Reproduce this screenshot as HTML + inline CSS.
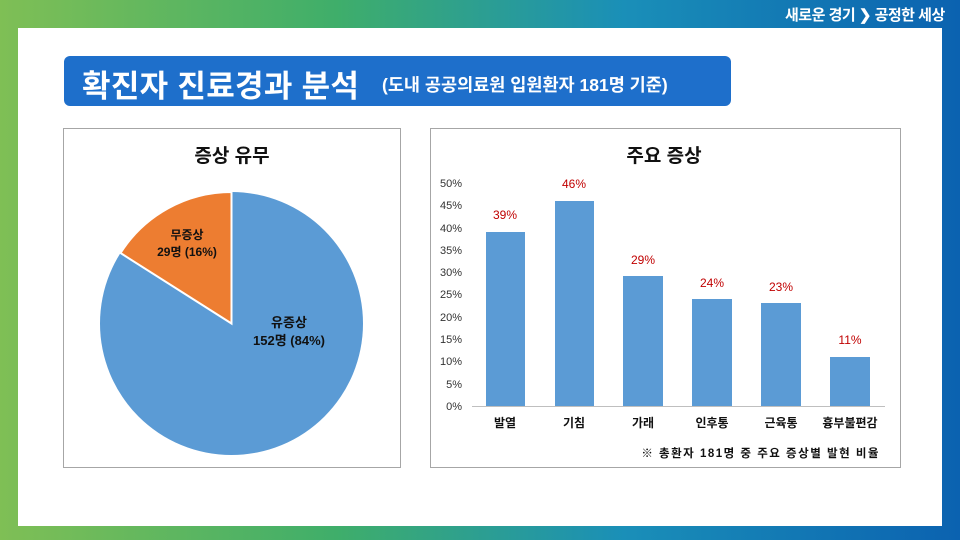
<!DOCTYPE html>
<html><head><meta charset="utf-8"><style>
body{margin:0;width:960px;height:540px;overflow:hidden;font-family:"Liberation Sans","Noto Sans CJK KR",sans-serif;}
.bg{position:absolute;left:0;top:0;width:960px;height:540px;background:linear-gradient(90deg,#7fbf55 0%,#3fae6a 35%,#1a8fb8 65%,#0b62b0 100%);}
.white{position:absolute;left:18px;top:28px;width:924px;height:498px;background:#fff;}
.title{position:absolute;left:64px;top:56px;width:667px;height:50px;background:#1e6fcb;border-radius:6px;color:#fff;}
.panel{position:absolute;border:1px solid #a6a6a6;background:#fff;}
</style></head><body>
<div class="bg"></div>
<div style="position:absolute;left:785px;top:4px;color:#fff;font-weight:bold;font-size:15px;letter-spacing:-0.5px;">새로운 경기 ❯ 공정한 세상</div>
<div class="white"></div>
<div class="title"><span style="position:absolute;left:18px;top:5px;font-size:31px;font-weight:bold;letter-spacing:0.3px;">확진자 진료경과 분석</span><span style="position:absolute;left:318px;top:16px;font-size:17.5px;font-weight:bold;">(도내 공공의료원 입원환자 181명 기준)</span></div>
<div class="panel" style="left:63px;top:128px;width:336px;height:338px;"></div>
<div class="panel" style="left:430px;top:128px;width:469px;height:338px;"></div>
<svg style="position:absolute;left:0;top:0" width="960" height="540" font-family="Liberation Sans, Noto Sans CJK KR, sans-serif">
<text x="232" y="162" font-size="19" font-weight="bold" text-anchor="middle" fill="#111">증상 유무</text>
<circle cx="231.5" cy="323.5" r="131.5" fill="#5b9bd5"/>
<path d="M231.5 323.5 L231.5 192 A131.5 131.5 0 0 0 120.5 253 Z" fill="#ed7d31" stroke="#fff" stroke-width="2"/>
<line x1="231.5" y1="323.5" x2="231.5" y2="192" stroke="#fff" stroke-width="2"/>
<text x="187" y="239" font-size="12" font-weight="bold" text-anchor="middle" fill="#111">무증상</text>
<text x="187" y="256" font-size="12" font-weight="bold" text-anchor="middle" fill="#111">29명 (16%)</text>
<text x="289" y="327" font-size="13" font-weight="bold" text-anchor="middle" fill="#111">유증상</text>
<text x="289" y="345" font-size="13" font-weight="bold" text-anchor="middle" fill="#111">152명 (84%)</text>
<text x="664" y="162" font-size="19" font-weight="bold" text-anchor="middle" fill="#111">주요 증상</text>
<g font-size="11" fill="#333" text-anchor="end">
<text x="462" y="410">0%</text><text x="462" y="388">5%</text><text x="462" y="365">10%</text><text x="462" y="343">15%</text><text x="462" y="321">20%</text><text x="462" y="298">25%</text><text x="462" y="276">30%</text><text x="462" y="254">35%</text><text x="462" y="232">40%</text><text x="462" y="209">45%</text><text x="462" y="187">50%</text>
</g>
<g fill="#5b9bd5">
<rect x="486" y="232" width="39" height="174"/>
<rect x="555" y="201" width="39" height="205"/>
<rect x="623" y="276" width="40" height="130"/>
<rect x="692" y="299" width="40" height="107"/>
<rect x="761" y="303" width="40" height="103"/>
<rect x="830" y="357" width="40" height="49"/>
</g>
<line x1="472" y1="406.5" x2="885" y2="406.5" stroke="#bfbfbf"/>
<g font-size="12" fill="#c00000" text-anchor="middle">
<text x="505" y="219">39%</text><text x="574" y="188">46%</text><text x="643" y="264">29%</text><text x="712" y="287">24%</text><text x="781" y="291">23%</text><text x="850" y="344">11%</text>
</g>
<g font-size="12" font-weight="bold" fill="#111" text-anchor="middle">
<text x="505" y="427">발열</text><text x="574" y="427">기침</text><text x="643" y="427">가래</text><text x="712" y="427">인후통</text><text x="781" y="427">근육통</text><text x="850" y="427">흉부불편감</text>
</g>
<text x="880" y="457" font-size="11.5" font-weight="bold" fill="#111" text-anchor="end" letter-spacing="1.5">※ 총환자 181명 중 주요 증상별 발현 비율</text>
</svg>
</body></html>
